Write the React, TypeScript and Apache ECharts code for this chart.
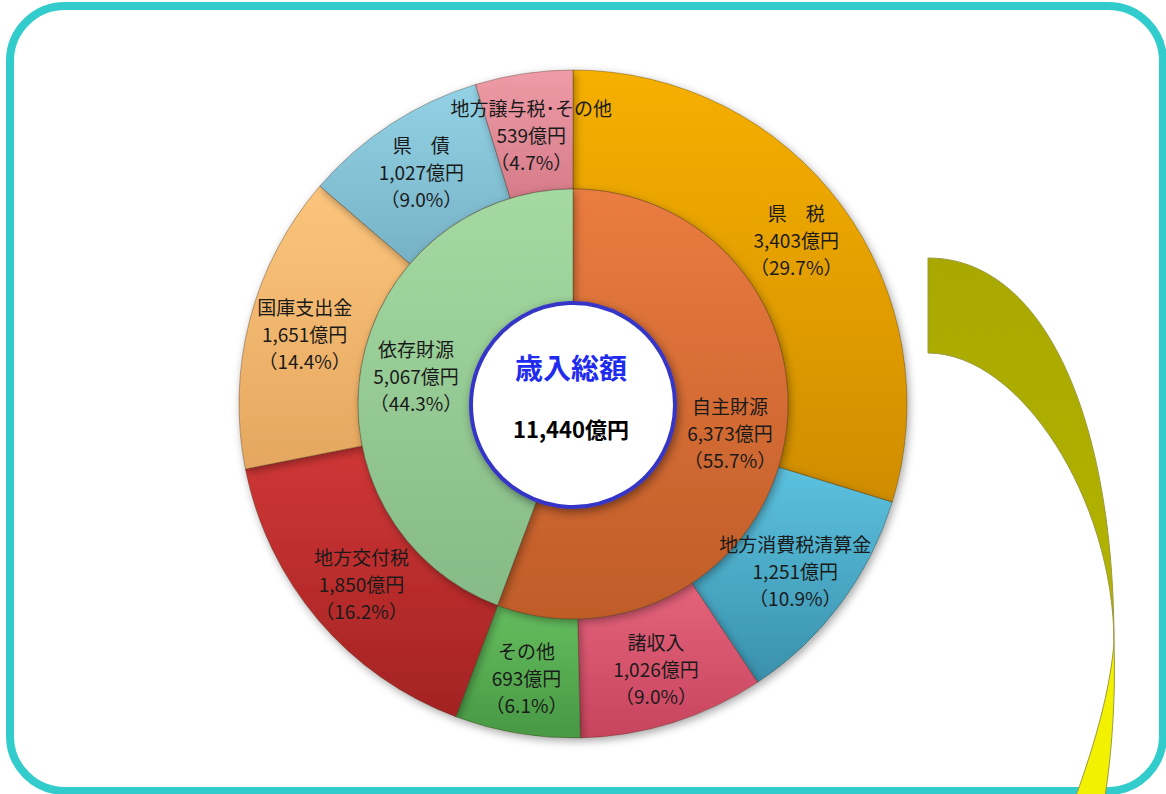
import React, { useEffect, useRef } from "react";
import * as echarts from "echarts";

const outerNames = ["県　税", "地方消費税清算金", "諸収入", "その他", "地方交付税", "国庫支出金", "県　債", "地方譲与税･その他"];
const outerValues = [3403, 1251, 1026, 693, 1850, 1651, 1027, 539];
const innerNames = ["自主財源", "依存財源"];
const innerValues = [6373, 5067];
const centerTitle = "歳入総額";
const centerTotal = "11,440億円";

const outerColors: [string, string][] = [
  ["#F6B000", "#CF8D00"],
  ["#5CC2DF", "#3990AC"],
  ["#E4647C", "#C8445E"],
  ["#66BE5F", "#479843"],
  ["#D03636", "#A32323"],
  ["#FCC57C", "#E5A75F"],
  ["#93D2E6", "#76B2C6"],
  ["#EE9CA7", "#D67B89"],
];
const innerColors: [string, string][] = [
  ["#EA7C40", "#BF5C28"],
  ["#A4DAA2", "#86BA86"],
];

const FONT = '"Noto Sans CJK JP", "Noto Sans", sans-serif';

function fmt(v: number) {
  return v.toLocaleString("en-US");
}

const OLIVE_D = "M928,258 C1045,258 1114,420 1114,643 C1114,500 1020,353 928,353 Z";
const YELLOW_D = "M1114,643 C1116,700 1111,760 1105,796 L1076,796 C1096,740 1110,690 1114,643 Z";

let registered = false;
function registerShapes() {
  if (registered) return;
  registered = true;
  echarts.graphic.registerShape("ribbonOlive", echarts.graphic.extendPath(OLIVE_D, {}) as any);
  echarts.graphic.registerShape("ribbonYellow", echarts.graphic.extendPath(YELLOW_D, {}) as any);
}

export default function App() {
  const ref = useRef<HTMLDivElement>(null);
  useEffect(() => {
    if (!ref.current) return;
    registerShapes();
    const chart = echarts.init(ref.current, undefined, { renderer: "svg" });
    const total = outerValues.reduce((a, b) => a + b, 0);
    const grad = (c: [string, string]) =>
      new echarts.graphic.LinearGradient(0, 0, 0, 1, [
        { offset: 0, color: c[0] },
        { offset: 1, color: c[1] },
      ]);
    const labelCommon = {
      show: true,
      position: "inside",
      color: "#1a1a1a",
      fontSize: 19,
      lineHeight: 27,
      fontFamily: FONT,
      align: "center",
      formatter: (p: any) => `${p.name}\n${fmt(p.value)}億円\n（${((p.value / total) * 100).toFixed(1)}%）`,
    };
    const itemStyleCommon = {
      borderColor: "rgba(60,40,20,0.35)",
      borderWidth: 1,
      shadowBlur: 8,
      shadowOffsetX: 2,
      shadowOffsetY: 3,
      shadowColor: "rgba(0,0,0,0.35)",
    };
    const lastIdx = outerNames.length - 1;
    chart.setOption({
      animation: false,
      series: [
        {
          type: "pie",
          center: [573, 404],
          radius: [215, 334],
          startAngle: 90,
          clockwise: true,
          silent: true,
          avoidLabelOverlap: false,
          label: labelCommon,
          labelLine: { show: false },
          itemStyle: itemStyleCommon,
          labelLayout: (p: any) => {
            if (p.dataIndex !== lastIdx || !p.rect) return {};
            return {
              x: p.rect.x + p.rect.width / 2 + 7,
              y: p.rect.y + p.rect.height / 2,
              align: "center",
              verticalAlign: "middle",
            };
          },
          data: outerNames.map((n, i) => ({
            name: n,
            value: outerValues[i],
            itemStyle: { color: grad(outerColors[i]) },
            ...(i === lastIdx
              ? { label: { position: "outside", alignTo: "none" }, labelLine: { show: false } }
              : {}),
          })),
        },
        {
          type: "pie",
          center: [573, 404],
          radius: [98, 215],
          startAngle: 90,
          clockwise: true,
          silent: true,
          avoidLabelOverlap: false,
          label: labelCommon,
          labelLine: { show: false },
          itemStyle: itemStyleCommon,
          data: innerNames.map((n, i) => ({
            name: n,
            value: innerValues[i],
            itemStyle: { color: grad(innerColors[i]) },
          })),
        },
      ],
      graphic: [
        {
          type: "rect",
          z: 1,
          shape: { x: 10, y: 6, width: 1153, height: 785, r: 55 },
          style: { fill: "none", stroke: "#33CCCC", lineWidth: 8 },
        },
        {
          type: "ribbonOlive",
          z: 2,
          x: 0,
          y: 0,
          style: {
            fill: new echarts.graphic.LinearGradient(0, 0, 0, 1, [
              { offset: 0, color: "#A8A800" },
              { offset: 1, color: "#B4B400" },
            ]),
            stroke: "#9A9A40",
            lineWidth: 1,
          },
        },
        {
          type: "ribbonYellow",
          z: 2,
          x: 0,
          y: 0,
          style: { fill: "#F2F200", stroke: "#9A9A40", lineWidth: 1 },
        },
        {
          type: "circle",
          z: 100,
          shape: { cx: 573, cy: 405, r: 102 },
          style: {
            fill: "#ffffff",
            stroke: "#3636C8",
            lineWidth: 4,
            shadowBlur: 10,
            shadowOffsetX: 2,
            shadowOffsetY: 3,
            shadowColor: "rgba(0,0,0,0.45)",
          },
        },
        {
          type: "text",
          z: 101,
          x: 571,
          y: 367,
          style: {
            text: centerTitle,
            fill: "#1F2BEE",
            font: `bold 28px ${FONT}`,
            align: "center",
            verticalAlign: "middle",
          },
        },
        {
          type: "text",
          z: 101,
          x: 571,
          y: 428,
          style: {
            text: centerTotal,
            fill: "#000000",
            font: `bold 22px ${FONT}`,
            align: "center",
            verticalAlign: "middle",
          },
        },
      ],
    });
    return () => chart.dispose();
  }, []);
  return (
    <div
      ref={ref}
      style={{ position: "absolute", left: 0, top: 0, width: 1166, height: 794, background: "#ffffff" }}
    />
  );
}
